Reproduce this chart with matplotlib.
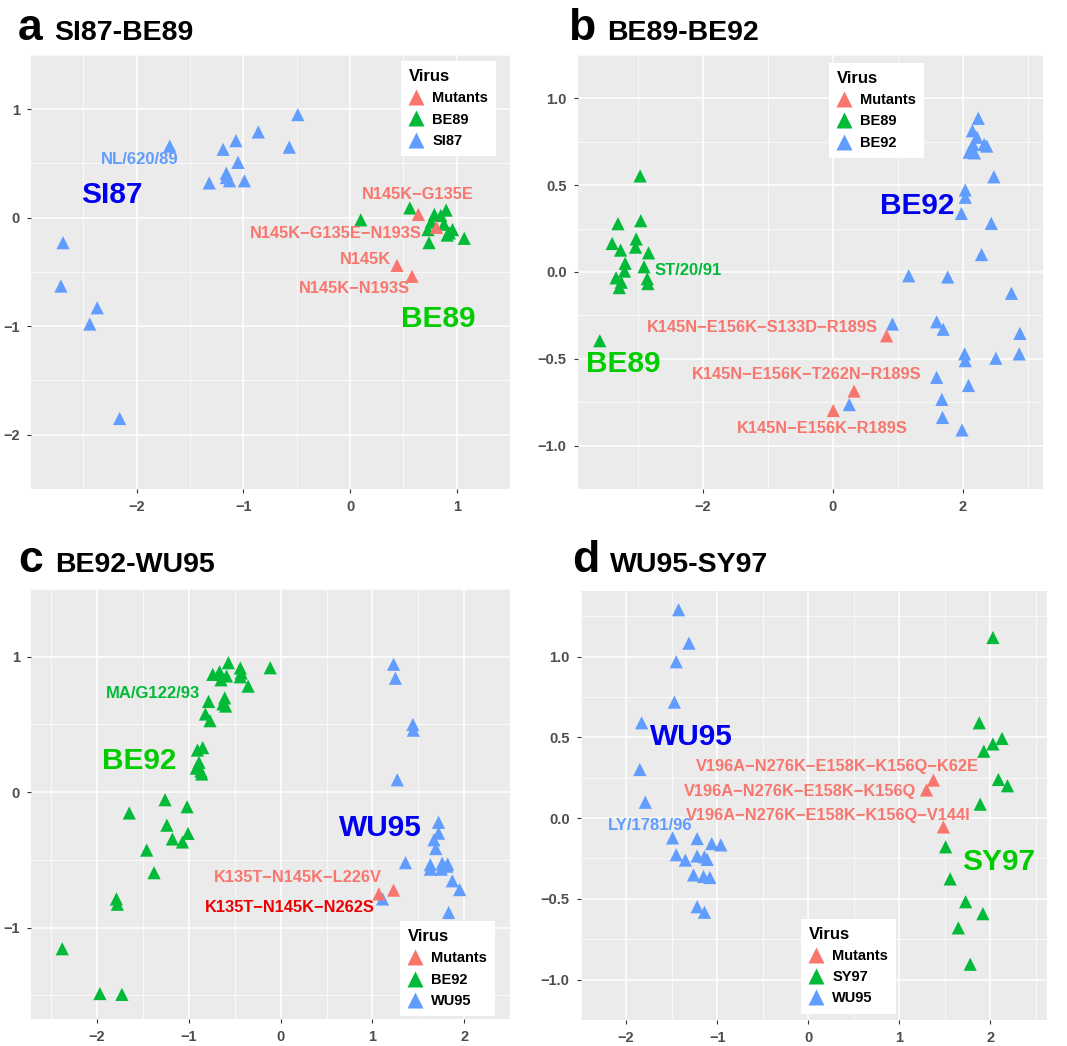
import matplotlib
matplotlib.use("Agg")
import matplotlib.pyplot as plt
import numpy as np
from matplotlib.lines import Line2D

plt.rcParams['font.family'] = ['Liberation Sans', 'DejaVu Sans']
plt.rcParams['font.weight'] = 'bold'

RED = '#F8766D'
GREEN = '#00BA38'
BLUE = '#619CFF'

# ---- panel a: SI87-BE89
a_si87 = [(-0.49, 0.95), (-0.86, 0.79), (-1.07, 0.71), (-0.57, 0.65), (-1.69, 0.66),
          (-1.19, 0.63), (-1.05, 0.51), (-1.16, 0.41), (-1.16, 0.37), (-1.13, 0.34),
          (-0.99, 0.34), (-1.32, 0.32), (-2.69, -0.23), (-2.71, -0.63), (-2.37, -0.83),
          (-2.44, -0.98), (-2.16, -1.85)]
a_be89 = [(0.10, -0.02), (0.56, 0.09), (0.79, 0.03), (0.90, 0.07), (0.85, 0.02),
          (0.76, -0.04), (0.73, -0.11), (0.93, -0.14), (0.96, -0.11), (1.07, -0.19),
          (0.74, -0.23), (0.88, -0.06), (0.91, -0.16)]
a_mut = [(0.64, 0.03), (0.81, -0.09), (0.44, -0.44), (0.58, -0.54)]
a_mut_labels = ['N145K\u2212G135E', 'N145K\u2212G135E\u2212N193S', 'N145K', 'N145K\u2212N193S']
a_mut_label_pos = [(1.16, 0.215), (0.67, -0.144), (0.38, -0.385), (0.56, -0.656)]

# ---- panel b: BE89-BE92
b_be89 = [(-2.96, 0.553), (-3.30, 0.278), (-2.95, 0.295), (-3.39, 0.164), (-3.26, 0.126),
          (-3.02, 0.19), (-3.03, 0.143), (-2.83, 0.11), (-3.19, 0.05), (-3.20, 0.005),
          (-2.90, 0.03), (-3.33, -0.034), (-3.25, -0.059), (-3.28, -0.09), (-2.85, -0.039),
          (-2.84, -0.067), (-3.58, -0.396)]
b_be92 = [(2.24, 0.885), (2.15, 0.813), (2.22, 0.776), (2.16, 0.734), (2.33, 0.734),
          (2.37, 0.725), (2.10, 0.69), (2.18, 0.686), (2.48, 0.548), (2.04, 0.472),
          (2.04, 0.43), (1.98, 0.337), (2.44, 0.28), (2.29, 0.10), (1.17, -0.022),
          (1.77, -0.029), (2.75, -0.123), (0.92, -0.30), (1.60, -0.287), (1.70, -0.33),
          (2.88, -0.354), (2.03, -0.472), (2.04, -0.511), (2.51, -0.497), (2.87, -0.472),
          (1.60, -0.607), (2.09, -0.654), (1.68, -0.734), (0.256, -0.764), (1.69, -0.838),
          (1.99, -0.91)]
b_mut = [(0.83, -0.368), (0.33, -0.686), (0.01, -0.798)]
b_mut_labels = ['K145N\u2212E156K\u2212S133D\u2212R189S', 'K145N\u2212E156K\u2212T262N\u2212R189S',
                'K145N\u2212E156K\u2212R189S']
b_mut_label_pos = [(0.70, -0.32), (1.37, -0.59), (1.16, -0.899)]

# ---- panel c: BE92-WU95
c_be92 = [(-0.57, 0.956), (-0.114, 0.919), (-0.44, 0.917), (-0.43, 0.88), (-0.44, 0.852),
          (-0.666, 0.89), (-0.74, 0.87), (-0.59, 0.858), (-0.65, 0.83), (-0.355, 0.783),
          (-0.786, 0.67), (-0.61, 0.696), (-0.63, 0.653), (-0.60, 0.636), (-0.82, 0.577),
          (-0.77, 0.528), (-0.907, 0.311), (-0.85, 0.329), (-0.89, 0.22), (-0.92, 0.177),
          (-0.87, 0.156), (-0.86, 0.134), (-1.26, -0.056), (-1.02, -0.108), (-1.65, -0.154),
          (-1.24, -0.244), (-1.01, -0.305), (-1.18, -0.346), (-1.07, -0.368), (-1.46, -0.428),
          (-1.38, -0.595), (-1.79, -0.789), (-1.78, -0.828), (-2.38, -1.157), (-1.97, -1.488),
          (-1.73, -1.494)]
c_wu95 = [(1.23, 0.945), (1.25, 0.841), (1.44, 0.50), (1.445, 0.458), (1.27, 0.091),
          (1.72, -0.223), (1.72, -0.303), (1.67, -0.352), (1.69, -0.417), (1.36, -0.521),
          (1.63, -0.536), (1.63, -0.569), (1.76, -0.525), (1.81, -0.547), (1.75, -0.569),
          (1.82, -0.532), (1.87, -0.655), (1.95, -0.72), (1.11, -0.789), (1.83, -0.889)]
c_mut = [(1.23, -0.724), (1.07, -0.752)]
c_mut_labels = ['K135T\u2212N145K\u2212L226V', 'K135T\u2212N145K\u2212N262S']
c_mut_label_pos = [(1.10, -0.627), (1.03, -0.854)]
c_mut_label_colors = [RED, '#EE0000']

# ---- panel d: WU95-SY97
d_wu95 = [(-1.424, 1.29), (-1.31, 1.083), (-1.45, 0.968), (-1.47, 0.718), (-1.83, 0.59),
          (-1.85, 0.301), (-1.79, 0.098), (-1.49, -0.123), (-1.22, -0.127), (-1.06, -0.158),
          (-0.96, -0.166), (-1.45, -0.227), (-1.35, -0.26), (-1.22, -0.235), (-1.14, -0.24),
          (-1.11, -0.256), (-1.26, -0.352), (-1.15, -0.362), (-1.08, -0.368), (-1.22, -0.549),
          (-1.14, -0.583)]
d_sy97 = [(2.03, 1.118), (1.88, 0.59), (2.13, 0.493), (2.03, 0.459), (1.93, 0.414),
          (2.09, 0.239), (2.19, 0.20), (1.89, 0.086), (1.51, -0.178), (1.56, -0.377),
          (1.73, -0.518), (1.92, -0.592), (1.65, -0.68), (1.78, -0.905)]
d_mut = [(1.376, 0.235), (1.30, 0.174), (1.486, -0.055)]
d_mut_labels = ['V196A\u2212N276K\u2212E158K\u2212K156Q\u2212K62E', 'V196A\u2212N276K\u2212E158K\u2212K156Q',
                'V196A\u2212N276K\u2212E158K\u2212K156Q\u2212V144I']
d_mut_label_pos = [(1.877, 0.317), (1.186, 0.164), (1.78, 0.014)]

fig = plt.figure(figsize=(10.67, 10.46), dpi=100)

panels = [
    dict(letter='a', title='SI87-BE89', rect=[0.0291, 0.5325, 0.449, 0.415],
         xlim=(-2.99, 1.30), ylim=(-2.15, 1.144),
         xt=[-2, -1, 0, 1], yt=[-2, -1, 0, 1], xm=0.5, ym=0.5,
         groups=[('Mutants', a_mut, RED), ('BE89', a_be89, GREEN), ('SI87', a_si87, BLUE)],
         mlab=a_mut_labels, mpos=a_mut_label_pos, mcol=[RED] * 4,
         strain=('NL/620/89', -1.61, 0.54, BLUE),
         big=[('SI87', -2.23, 0.205, '#0000EE'), ('BE89', 0.83, -0.93, '#00CC00')],
         leg=dict(loc='upper right', bbox_to_anchor=(0.971, 0.986))),
    dict(letter='b', title='BE89-BE92', rect=[0.5414, 0.5325, 0.4364, 0.415],
         xlim=(-3.92, 3.24), ylim=(-1.10, 1.096),
         xt=[-2, 0, 2], yt=[-1.0, -0.5, 0.0, 0.5, 1.0], xm=1.0, ym=0.25,
         groups=[('Mutants', b_mut, RED), ('BE89', b_be89, GREEN), ('BE92', b_be92, BLUE)],
         mlab=b_mut_labels, mpos=b_mut_label_pos, mcol=[RED] * 3,
         strain=('ST/20/91', -2.74, 0.01, GREEN, 'left'),
         big=[('BE92', 1.30, 0.38, '#0000EE'), ('BE89', -3.22, -0.528, '#00CC00')],
         leg=dict(loc='upper left', bbox_to_anchor=(0.54, 0.982))),
    dict(letter='c', title='BE92-WU95', rect=[0.0291, 0.0258, 0.449, 0.411],
         xlim=(-2.72, 2.23), ylim=(-1.676, 1.113),
         xt=[-2, -1, 0, 1, 2], yt=[-1, 0, 1], xm=0.5, ym=0.5,
         groups=[('Mutants', c_mut, RED), ('BE92', c_be92, GREEN), ('WU95', c_wu95, BLUE)],
         mlab=c_mut_labels, mpos=c_mut_label_pos, mcol=c_mut_label_colors,
         strain=('MA/G122/93', -0.88, 0.729, GREEN),
         big=[('BE92', -1.54, 0.231, '#00CC00'), ('WU95', 1.09, -0.266, '#0000EE')],
         leg=dict(loc='lower right', bbox_to_anchor=(0.969, 0.007))),
    dict(letter='d', title='WU95-SY97', rect=[0.5442, 0.0249, 0.4367, 0.4104],
         xlim=(-2.21, 2.62), ylim=(-1.11, 1.408),
         xt=[-2, -1, 0, 1, 2], yt=[-1.0, -0.5, 0.0, 0.5, 1.0], xm=0.5, ym=0.25,
         groups=[('Mutants', d_mut, RED), ('SY97', d_sy97, GREEN), ('WU95', d_wu95, BLUE)],
         mlab=d_mut_labels, mpos=d_mut_label_pos, mcol=[RED] * 3,
         strain=('LY/1781/96', -1.27, -0.045, BLUE),
         big=[('WU95', -1.28, 0.50, '#0000EE'), ('SY97', 2.095, -0.274, '#00CC00')],
         leg=dict(loc='lower left', bbox_to_anchor=(0.473, 0.015))),
]

title_pos = {'a': (18, 40, 54), 'b': (568, 40, 607), 'c': (18, 572, 55), 'd': (572, 572, 610)}
W, H = 1067, 1046

for p in panels:
    ax = fig.add_axes(p['rect'])
    ax.set_facecolor('#EBEBEB')
    for s in ax.spines.values():
        s.set_visible(False)
    ax.set_xlim(*p['xlim'])
    ax.set_ylim(*p['ylim'])
    ax.set_xticks(p['xt'])
    ax.set_yticks(p['yt'])
    # minor breaks halfway between majors, like ggplot
    xmin_t = np.arange(p['xt'][0] - p['xm'], p['xt'][-1] + p['xm'] * 1.5, 2 * p['xm'])
    ymin_t = np.arange(p['yt'][0] - p['ym'], p['yt'][-1] + p['ym'] * 1.5, 2 * p['ym'])
    ax.set_xticks(xmin_t, minor=True)
    ax.set_yticks(ymin_t, minor=True)
    ax.grid(True, which='major', color='white', lw=1.1)
    ax.grid(True, which='minor', color='white', lw=0.5)
    ax.set_axisbelow(True)
    ax.tick_params(which='major', length=3, width=0.8, color='#333333',
                   labelsize=10.5, labelcolor='#4D4D4D', pad=5)
    ax.tick_params(which='minor', length=0)
    for lab in ax.get_xticklabels() + ax.get_yticklabels():
        lab.set_fontweight('bold')

    for name, pts, col in reversed(p['groups']):
        arr = np.array(pts)
        ax.scatter(arr[:, 0], arr[:, 1], marker='^', s=90, color=col, edgecolors='none',
                   zorder=3)

    for txt, (x, y), col in zip(p['mlab'], p['mpos'], p['mcol']):
        ax.text(x, y, txt, ha='right', va='center', color=col, fontsize=11.8,
                fontweight='bold', zorder=4)

    st = p['strain']
    ax.text(st[1], st[2], st[0], ha=st[4] if len(st) > 4 else 'right', va='center',
            color=st[3], fontsize=12, fontweight='bold', zorder=4)

    for txt, x, y, col in p['big']:
        ax.text(x, y, txt, ha='center', va='center', color=col, fontsize=21.5,
                fontweight='bold', zorder=4)

    handles = [Line2D([], [], marker='^', ls='none', color=col, markersize=11.5, mec='none')
               for _, _, col in p['groups']]
    leg = ax.legend(handles, [g[0] for g in p['groups']], title='Virus',
                    frameon=True, fancybox=False, facecolor='white', edgecolor='none',
                    framealpha=1, fontsize=10.5, title_fontsize=12, handlelength=1.0,
                    handletextpad=0.6, labelspacing=0.5, borderpad=0.55, borderaxespad=0,
                    **p['leg'])
    leg._legend_box.align = 'left'
    leg.get_title().set_fontweight('bold')
    for t in leg.get_texts():
        t.set_fontweight('bold')

    lx, base, tx = title_pos[p['letter']]
    fig.text(lx / W, 1 - base / H, p['letter'], fontsize=32, fontweight='bold',
             va='baseline', ha='left')
    fig.text(tx / W, 1 - base / H, p['title'], fontsize=20.5, fontweight='bold',
             va='baseline', ha='left')

fig.savefig('out.png', dpi=100)
